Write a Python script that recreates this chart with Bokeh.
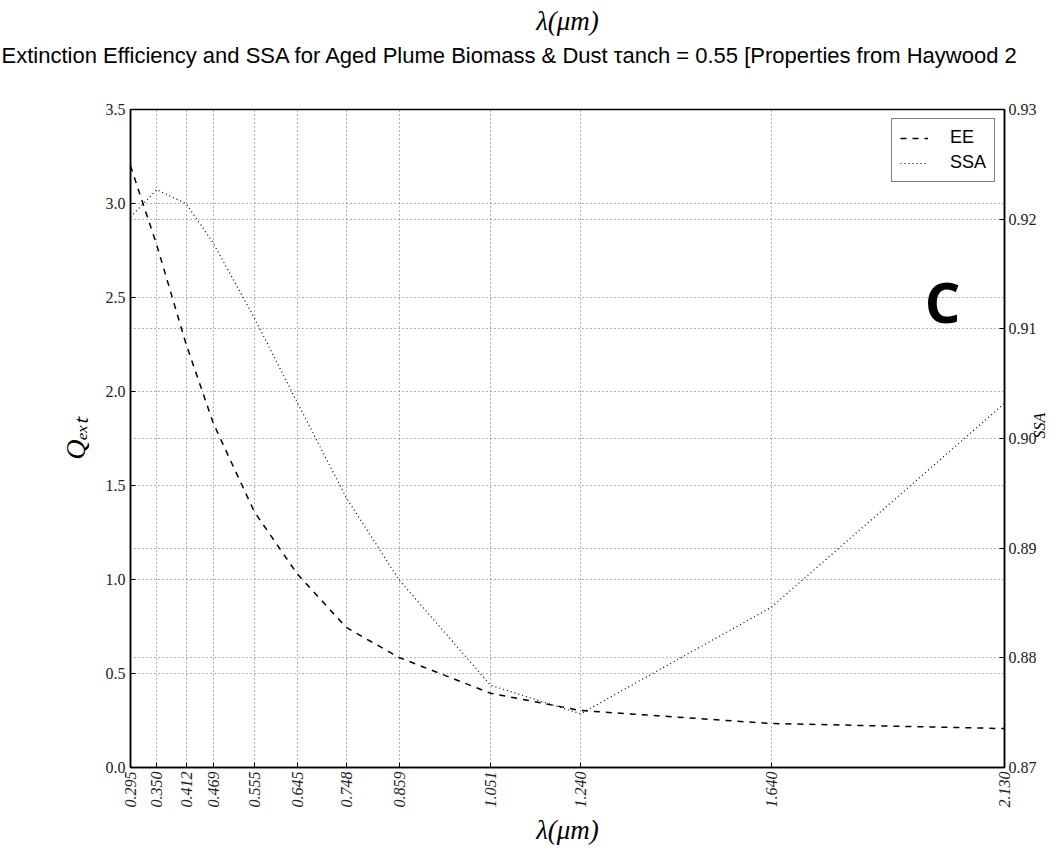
from math import pi
from bokeh.plotting import figure
from bokeh.models import (Range1d, LinearAxis, FixedTicker, PrintfTickFormatter,
                          Grid, Label, Legend, LegendItem, Title)
from bokeh.embed import file_html
from bokeh.resources import INLINE

# ---------------- data ----------------
wavelengths = [0.295, 0.350, 0.412, 0.469, 0.555, 0.645, 0.748, 0.859, 1.051, 1.240, 1.640, 2.130]
ee = [3.20, 2.78, 2.25, 1.83, 1.36, 1.03, 0.745, 0.585, 0.395, 0.303, 0.234, 0.207]
ssa = [0.9202, 0.9227, 0.9214, 0.9178, 0.9110, 0.9033, 0.8946, 0.8871, 0.8775, 0.8749, 0.8846, 0.9032]
q_ticks = [0.0, 0.5, 1.0, 1.5, 2.0, 2.5, 3.0, 3.5]
ssa_ticks = [0.87, 0.88, 0.89, 0.90, 0.91, 0.92, 0.93]
series_names = ["EE", "SSA"]
title_text = "Extinction Efficiency and SSA for Aged Plume Biomass & Dust τanch = 0.55 [Properties from Haywood 2"
x_label = "λ(μm)"
y_label = "Qₑₓₜ"
y2_label = "SSA"
panel_letter = "C"

# frame geometry (canvas px)
W, H = 1059, 854
FL, FT, FR, FB = 130, 109, 1004, 767

p = figure(width=W, height=H, output_backend="svg", toolbar_location=None,
           title_location=None,
           x_range=Range1d(wavelengths[0], wavelengths[-1]),
           y_range=Range1d(q_ticks[0], q_ticks[-1]))
p.min_border_left = FL
p.min_border_right = W - FR
p.min_border_top = FT
p.min_border_bottom = H - FB
p.background_fill_color = "white"
p.border_fill_color = "white"
p.outline_line_color = "black"
p.outline_line_width = 1.5

p.extra_y_ranges = {"ssa": Range1d(ssa_ticks[0], ssa_ticks[-1])}

serif = "Liberation Serif"
sans = "Liberation Sans"

def style_axis(ax):
    ax.axis_line_color = "black"
    ax.axis_line_width = 1.5
    ax.major_tick_in = 5
    ax.major_tick_out = 0
    ax.minor_tick_line_color = None
    ax.major_tick_line_color = "black"
    ax.major_label_text_font = serif
    ax.major_label_text_font_size = "16px"
    ax.major_label_text_color = "#222222"
    ax.axis_label_text_font = serif
    ax.axis_label_text_font_style = "italic"
    ax.axis_label_text_color = "black"

# bottom axis
xa = p.xaxis[0]
xa.ticker = FixedTicker(ticks=wavelengths)
xa.formatter = PrintfTickFormatter(format="%.3f")
xa.major_label_orientation = pi / 2
style_axis(xa)
xa.major_label_text_font_style = "italic"
xa.major_label_standoff = 4
xa.axis_label = x_label
xa.axis_label_text_font_size = "27px"
xa.axis_label_standoff = 4

# left axis
ya = p.yaxis[0]
ya.ticker = FixedTicker(ticks=q_ticks)
ya.formatter = PrintfTickFormatter(format="%.1f")
style_axis(ya)
ya.major_label_standoff = 5
ya.axis_label = y_label
ya.axis_label_text_font_size = "28px"
ya.axis_label_standoff = 12

# right axis
ra = LinearAxis(y_range_name="ssa", ticker=FixedTicker(ticks=ssa_ticks),
                formatter=PrintfTickFormatter(format="%.2f"))
style_axis(ra)
ra.major_label_standoff = 4
ra.axis_label = y2_label
ra.axis_label_text_font_size = "16px"
ra.axis_label_standoff = 0
if "axis_label_orientation" in ra.properties():
    ra.axis_label_orientation = pi / 2
p.add_layout(ra, "right")

# grids
grid_kw = dict(grid_line_color="#666666", grid_line_width=1, grid_line_dash="1 3")
p.xgrid[0].ticker = FixedTicker(ticks=wavelengths)
p.ygrid[0].ticker = FixedTicker(ticks=q_ticks)
for g in (p.xgrid[0], p.ygrid[0]):
    g.grid_line_color = grid_kw["grid_line_color"]
    g.grid_line_width = grid_kw["grid_line_width"]
    g.grid_line_dash = grid_kw["grid_line_dash"]
g2 = Grid(dimension=1, ticker=FixedTicker(ticks=ssa_ticks), y_range_name="ssa", **grid_kw)
p.add_layout(g2)

# series
r_ee = p.line(wavelengths, ee, line_color="black", line_width=1.5, line_dash="6 6")
r_ssa = p.line(wavelengths, ssa, line_color="black", line_width=1.2, line_dash="1 3",
               y_range_name="ssa")

legend = Legend(items=[LegendItem(label=series_names[0], renderers=[r_ee]),
                       LegendItem(label=series_names[1], renderers=[r_ssa])],
                location="top_right")
legend.border_line_color = "black"
legend.border_line_width = 1
legend.background_fill_color = "white"
legend.background_fill_alpha = 1
legend.label_text_font = sans
legend.label_text_font_size = "18px"
legend.label_text_color = "black"
legend.glyph_width = 28
legend.glyph_height = 18
legend.label_standoff = 22
legend.padding = 8
legend.spacing = 4
legend.margin = 9
p.add_layout(legend)

# rows above the frame (first added = closest to the frame)
spacer = Title(text=" ", text_font=sans, text_font_size="10px", standoff=15)
p.add_layout(spacer, "above")
t1 = Title(text=title_text, text_font=sans, text_font_size="22px",
           text_font_style="normal", text_color="black", align="left",
           offset=-(FL - 1), standoff=28)
p.add_layout(t1, "above")
t2 = Title(text=x_label, text_font=serif, text_font_size="27px",
           text_font_style="italic", text_color="black", align="center",
           offset=-11, standoff=-19)
p.add_layout(t2, "above")

# panel letter inside the frame
p.add_layout(Label(x=942 - FL, y=FB - 300, x_units="screen", y_units="screen",
                   text=panel_letter, text_font="Open Sans", text_font_style="bold",
                   text_font_size="56px", text_align="center",
                   text_baseline="alphabetic", text_color="black"))

open("out.html", "w").write(file_html(p, INLINE))
